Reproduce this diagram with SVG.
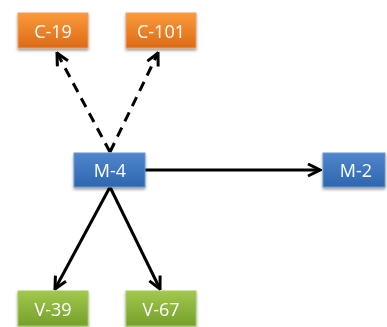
<svg xmlns="http://www.w3.org/2000/svg" width="387" height="327" viewBox="0 0 387 327">
<defs>
<linearGradient id="gO" x1="0" y1="0" x2="0" y2="1"><stop offset="0" stop-color="#fb9a3c"/><stop offset="1" stop-color="#dd6a16"/></linearGradient>
<linearGradient id="gB" x1="0" y1="0" x2="0" y2="1"><stop offset="0" stop-color="#4f86cc"/><stop offset="1" stop-color="#2f66ae"/></linearGradient>
<linearGradient id="gG" x1="0" y1="0" x2="0" y2="1"><stop offset="0" stop-color="#a2c84c"/><stop offset="1" stop-color="#74a02c"/></linearGradient>
<filter id="sh" x="-20%" y="-20%" width="140%" height="160%"><feGaussianBlur in="SourceAlpha" stdDeviation="1.5"/><feOffset dx="0" dy="2"/><feComponentTransfer><feFuncA type="linear" slope="0.4"/></feComponentTransfer><feMerge><feMergeNode/><feMergeNode in="SourceGraphic"/></feMerge></filter>
<marker id="ah" viewBox="0 0 10 10" refX="9" refY="5" markerWidth="5" markerHeight="5" orient="auto" markerUnits="strokeWidth"><path d="M1,1 L9,5 L1,9" fill="none" stroke="#000" stroke-width="2"/></marker>
</defs>
<style>
.o{fill:url(#gO);stroke:#f0a060;stroke-width:1}
.b{fill:url(#gB);stroke:#6a98d0;stroke-width:1}
.g{fill:url(#gG);stroke:#a8c860;stroke-width:1}
text{font-family:"Open Sans","Liberation Sans",sans-serif;font-size:18px;fill:#fff;text-anchor:middle;dominant-baseline:central}
.c{stroke:#000;stroke-width:3;fill:none;marker-end:url(#ah)}
.d{stroke-dasharray:10,7}
</style>
<g id="connectors">
<path class="c d" d="M110,152 L57,53"/>
<path class="c d" d="M110,152 L158,53"/>
<path class="c" d="M145,170 L320,170"/>
<path class="c" d="M110,187 L55,289"/>
<path class="c" d="M110,187 L160,289"/>
</g>
<g id="C-19" filter="url(#sh)"><rect class="o" x="18" y="13" width="70" height="35"/><text x="53" y="31">C-19</text></g>
<g id="C-101" filter="url(#sh)"><rect class="o" x="126" y="13" width="70" height="35"/><text x="161" y="31">C-101</text></g>
<g id="M-4" filter="url(#sh)"><rect class="b" x="74" y="153" width="71" height="34"/><text x="110" y="170">M-4</text></g>
<g id="M-2" filter="url(#sh)"><rect class="b" x="323" y="153" width="62" height="34"/><text x="356" y="170">M-2</text></g>
<g id="V-39" filter="url(#sh)"><rect class="g" x="18" y="291" width="70" height="35"/><text x="53" y="309">V-39</text></g>
<g id="V-67" filter="url(#sh)"><rect class="g" x="126" y="291" width="70" height="35"/><text x="161" y="309">V-67</text></g>
</svg>
